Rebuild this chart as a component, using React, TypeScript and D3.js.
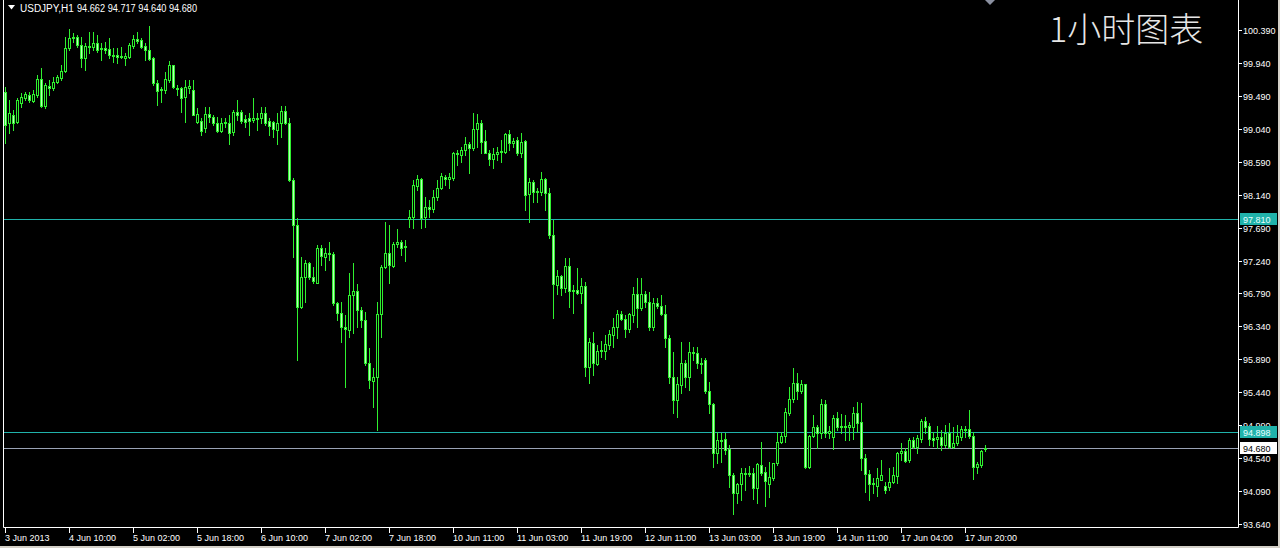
import React, { useEffect } from "react";
import * as d3 from "d3";

const symbolLabel = "USDJPY,H1";
const quoteLabel = "94.662 94.717 94.640 94.680";
const titleLabel = "1小时图表";

const open = [
  99.54, 99.12, 99.23, 99.13, 99.39, 99.46, 99.50, 99.42, 99.50, 99.72,
  99.35, 99.63, 99.60, 99.68, 99.73, 99.83, 100.14, 100.28, 100.30, 100.19,
  100.01, 100.16, 100.16, 100.21, 100.13, 100.14, 100.13, 100.05, 100.05, 100.02,
  100.01, 100.02, 100.17, 100.27, 100.25, 100.17, 100.12, 100.01, 99.67, 99.57,
  99.57, 99.71, 99.91, 99.60, 99.60, 99.48, 99.60, 99.57, 99.13, 99.15,
  99.05, 99.24, 99.20, 99.12, 99.01, 99.13, 99.12, 99.00, 99.27, 99.27,
  99.17, 99.19, 99.16, 99.19, 99.19, 99.26, 99.15, 99.13, 99.02, 99.12,
  99.28, 99.12, 98.34, 97.73, 96.61, 97.02, 97.21, 97.02, 96.93, 97.41,
  97.29, 97.34, 97.33, 96.66, 96.52, 96.33, 96.29, 96.77, 96.83, 96.57,
  96.43, 95.84, 95.60, 95.65, 96.51, 97.15, 97.34, 97.17, 97.47, 97.49,
  97.43, 97.81, 97.84, 98.26, 98.35, 97.84, 97.97, 97.95, 98.11, 98.23,
  98.38, 98.35, 98.37, 98.71, 98.68, 98.75, 98.83, 98.78, 99.04, 99.12,
  98.87, 98.71, 98.63, 98.70, 98.72, 98.72, 98.97, 98.85, 98.89, 98.71,
  98.87, 98.15, 98.31, 98.18, 98.18, 98.35, 98.16, 97.59, 96.91, 97.03,
  96.87, 97.17, 96.83, 96.84, 96.80, 96.89, 95.79, 96.11, 95.83, 96.00,
  96.00, 96.09, 96.22, 96.33, 96.51, 96.44, 96.31, 96.50, 96.78, 96.59,
  96.78, 96.67, 96.33, 96.66, 96.62, 96.51, 96.18, 95.65, 95.34, 95.54,
  95.84, 95.65, 95.99, 95.98, 95.84, 95.88, 95.46, 95.28, 94.61, 94.79,
  94.80, 94.67, 94.31, 94.07, 94.19, 94.34, 94.33, 94.34, 94.13, 94.45,
  94.35, 94.19, 94.27, 94.48, 94.76, 94.84, 95.16, 95.35, 95.57, 95.46,
  95.55, 94.42, 94.84, 94.97, 94.89, 95.28, 94.89, 94.83, 95.09, 94.97,
  94.98, 94.97, 94.97, 95.16, 95.04, 94.54, 94.33, 94.19, 94.16, 94.24,
  94.16, 94.15, 94.22, 94.30, 94.61, 94.64, 94.52, 94.79, 94.69, 94.80,
  95.05, 94.98, 94.82, 94.80, 94.83, 94.72, 94.89, 94.69, 94.75, 94.83,
  94.94, 94.94, 94.84, 94.42, 94.45, 94.662,
];

const high = [
  99.61, 99.43, 99.30, 99.46, 99.53, 99.54, 99.54, 99.57, 99.78, 99.87,
  99.67, 99.71, 99.75, 99.78, 99.91, 100.30, 100.40, 100.35, 100.32, 100.30,
  100.21, 100.36, 100.36, 100.32, 100.21, 100.23, 100.28, 100.14, 100.14, 100.16,
  100.08, 100.21, 100.32, 100.36, 100.28, 100.21, 100.45, 100.02, 99.71, 99.61,
  99.82, 99.97, 99.91, 99.64, 99.61, 99.71, 99.71, 99.71, 99.32, 99.19,
  99.34, 99.34, 99.23, 99.20, 99.19, 99.19, 99.23, 99.30, 99.43, 99.30,
  99.23, 99.26, 99.46, 99.26, 99.34, 99.34, 99.19, 99.15, 99.26, 99.35,
  99.35, 99.19, 98.37, 97.82, 97.29, 97.25, 97.22, 97.15, 97.45, 97.45,
  97.41, 97.49, 97.36, 96.67, 96.67, 96.50, 97.07, 97.21, 96.92, 96.61,
  96.54, 96.05, 95.77, 96.67, 97.18, 97.77, 97.73, 97.49, 97.67, 97.52,
  97.52, 97.93, 98.34, 98.41, 98.37, 98.11, 98.07, 98.20, 98.34, 98.44,
  98.41, 98.44, 98.72, 98.75, 98.79, 98.93, 98.86, 99.26, 99.24, 99.16,
  99.02, 98.75, 98.78, 98.79, 98.89, 98.98, 99.02, 98.92, 98.93, 98.98,
  98.89, 98.37, 98.34, 98.23, 98.45, 98.37, 98.23, 97.80, 97.11, 97.04,
  97.28, 97.28, 96.91, 97.14, 97.00, 96.95, 96.18, 96.26, 96.09, 96.14,
  96.22, 96.29, 96.46, 96.57, 96.55, 96.50, 96.52, 96.88, 97.00, 97.00,
  96.83, 96.81, 96.73, 96.73, 96.77, 96.63, 96.22, 95.99, 95.65, 96.13,
  95.88, 96.13, 96.06, 96.06, 95.91, 95.91, 95.58, 95.30, 94.90, 94.89,
  94.89, 94.72, 94.34, 94.20, 94.41, 94.41, 94.43, 94.41, 94.48, 94.76,
  94.42, 94.49, 94.48, 94.90, 94.90, 95.23, 95.51, 95.77, 95.71, 95.61,
  95.55, 94.86, 95.13, 94.99, 95.35, 95.34, 94.98, 95.13, 95.17, 95.14,
  95.13, 95.04, 95.24, 95.31, 95.30, 94.59, 94.38, 94.27, 94.41, 94.52,
  94.22, 94.41, 94.42, 94.63, 94.75, 94.68, 94.82, 94.83, 94.86, 95.08,
  95.10, 95.02, 94.90, 94.98, 94.93, 94.99, 95.02, 94.97, 94.99, 94.98,
  94.98, 95.20, 94.90, 94.49, 94.65, 94.717,
];

const low = [
  98.85, 98.98, 99.02, 99.12, 99.34, 99.43, 99.41, 99.41, 99.48, 99.34,
  99.32, 99.50, 99.57, 99.67, 99.71, 99.82, 100.12, 100.23, 100.16, 99.88,
  99.84, 100.08, 100.12, 100.09, 99.98, 100.08, 100.01, 99.95, 99.94, 100.01,
  99.91, 100.01, 100.14, 100.21, 100.14, 99.98, 99.98, 99.64, 99.37, 99.41,
  99.53, 99.68, 99.60, 99.50, 99.27, 99.13, 99.53, 99.23, 99.12, 98.96,
  99.00, 99.13, 99.09, 99.00, 99.00, 99.07, 98.83, 98.96, 99.16, 99.12,
  99.07, 98.96, 99.13, 99.02, 99.12, 99.09, 98.96, 98.93, 98.83, 98.93,
  99.11, 98.33, 97.29, 95.88, 96.59, 96.67, 96.99, 96.93, 96.93, 97.18,
  97.11, 97.25, 96.63, 96.43, 96.13, 95.51, 96.20, 96.25, 96.33, 96.33,
  95.81, 95.50, 95.24, 94.93, 96.20, 97.14, 96.93, 97.15, 97.43, 97.32,
  97.23, 97.70, 97.69, 98.20, 97.69, 97.70, 97.84, 97.90, 98.07, 98.22,
  98.27, 98.23, 98.34, 98.55, 98.59, 98.68, 98.44, 98.75, 98.79, 98.71,
  98.71, 98.55, 98.50, 98.61, 98.59, 98.71, 98.75, 98.79, 98.68, 98.66,
  97.93, 97.77, 98.04, 98.04, 98.14, 97.93, 97.55, 96.46, 96.78, 96.77,
  96.81, 96.61, 96.52, 96.78, 96.66, 95.66, 95.57, 95.68, 95.81, 95.92,
  95.90, 96.03, 96.06, 96.18, 96.43, 96.20, 96.26, 96.40, 96.33, 96.57,
  96.61, 96.29, 96.29, 96.59, 96.50, 96.06, 95.57, 95.16, 95.10, 95.43,
  95.51, 95.47, 95.88, 95.77, 95.71, 95.43, 95.16, 94.42, 94.48, 94.49,
  94.59, 94.15, 93.77, 93.93, 93.97, 94.11, 94.30, 93.98, 93.93, 94.31,
  93.89, 94.01, 94.24, 94.45, 94.75, 94.76, 95.13, 95.31, 95.35, 95.43,
  94.41, 94.41, 94.83, 94.68, 94.82, 94.83, 94.82, 94.67, 94.93, 94.89,
  94.79, 94.79, 94.80, 94.90, 94.38, 94.08, 93.97, 94.07, 94.02, 94.24,
  94.07, 94.11, 94.20, 94.20, 94.52, 94.49, 94.49, 94.68, 94.61, 94.76,
  94.89, 94.72, 94.71, 94.68, 94.65, 94.69, 94.68, 94.68, 94.72, 94.79,
  94.83, 94.82, 94.26, 94.34, 94.42, 94.640,
];

const close = [
  99.09, 99.26, 99.12, 99.43, 99.48, 99.52, 99.43, 99.52, 99.72, 99.35,
  99.64, 99.60, 99.68, 99.75, 99.83, 100.14, 100.28, 100.30, 100.19, 100.01,
  100.17, 100.17, 100.21, 100.12, 100.14, 100.12, 100.05, 100.04, 100.02, 100.04,
  100.04, 100.19, 100.27, 100.24, 100.16, 100.12, 99.99, 99.67, 99.56, 99.58,
  99.72, 99.91, 99.61, 99.58, 99.46, 99.61, 99.63, 99.23, 99.24, 99.01,
  99.24, 99.20, 99.12, 99.01, 99.12, 99.12, 98.98, 99.27, 99.23, 99.15,
  99.13, 99.15, 99.19, 99.17, 99.26, 99.12, 99.08, 99.04, 99.12, 99.28,
  99.12, 98.34, 97.73, 96.61, 97.02, 97.21, 97.02, 96.96, 97.41, 97.30,
  97.34, 97.33, 96.66, 96.52, 96.33, 96.31, 96.77, 96.83, 96.57, 96.43,
  95.84, 95.61, 95.65, 96.51, 97.15, 97.34, 97.18, 97.47, 97.49, 97.41,
  97.44, 97.84, 98.27, 98.35, 97.82, 97.97, 97.95, 98.11, 98.23, 98.40,
  98.35, 98.38, 98.71, 98.70, 98.75, 98.83, 98.78, 99.04, 99.12, 98.86,
  98.71, 98.63, 98.70, 98.72, 98.74, 98.97, 98.85, 98.87, 98.71, 98.86,
  98.14, 98.31, 98.18, 98.19, 98.35, 98.16, 97.59, 96.92, 97.03, 96.87,
  97.17, 96.83, 96.84, 96.80, 96.89, 95.79, 96.13, 95.84, 96.00, 96.02,
  96.10, 96.24, 96.33, 96.51, 96.44, 96.31, 96.51, 96.78, 96.59, 96.78,
  96.67, 96.33, 96.66, 96.62, 96.51, 96.18, 95.65, 95.34, 95.55, 95.84,
  95.65, 95.99, 95.98, 95.84, 95.83, 95.46, 95.28, 94.61, 94.79, 94.78,
  94.65, 94.31, 94.07, 94.19, 94.34, 94.33, 94.34, 94.13, 94.46, 94.34,
  94.23, 94.28, 94.48, 94.76, 94.84, 95.17, 95.35, 95.57, 95.46, 95.55,
  94.42, 94.84, 94.97, 94.89, 95.28, 94.89, 94.91, 95.09, 94.97, 94.98,
  94.97, 94.99, 95.16, 95.02, 94.54, 94.33, 94.19, 94.20, 94.27, 94.31,
  94.11, 94.22, 94.31, 94.61, 94.64, 94.50, 94.79, 94.69, 94.82, 95.05,
  94.97, 94.80, 94.79, 94.83, 94.72, 94.89, 94.69, 94.75, 94.84, 94.94,
  94.93, 94.84, 94.42, 94.46, 94.64, 94.680,
];

const timeLabels = [
  "3 Jun 2013", "4 Jun 10:00", "5 Jun 02:00", "5 Jun 18:00", "6 Jun 10:00",
  "7 Jun 02:00", "7 Jun 18:00", "10 Jun 11:00", "11 Jun 03:00", "11 Jun 19:00",
  "12 Jun 11:00", "13 Jun 03:00", "13 Jun 19:00", "14 Jun 11:00", "17 Jun 04:00",
  "17 Jun 20:00",
];
const barsPerTimeLabel = 16;

const priceLabels = [
  "93.640", "94.090", "94.540", "94.990", "95.440", "95.890", "96.340", "96.790",
  "97.240", "97.690", "98.140", "98.590", "99.040", "99.490", "99.940", "100.390",
];

const levelPrices = [97.81, 94.898];
const bidPrice = 94.68;

const GREEN = "#2ff02f";
const BEAR_FILL = "#b8ffb8";
const CYAN = "#20b2aa";
const BIDLINE = "#9aa3b5";
const FONT = "'Liberation Sans', Arial, sans-serif";

export default function App() {
  useEffect(() => {
    document.body.style.margin = "0";
    document.body.style.background = "#000";
  }, []);

  const W = 1280;
  const H = 548;
  const n = close.length;
  const x = d3.scaleLinear().domain([0, n - 1]).range([5, 5 + 4 * (n - 1)]);
  const y = d3
    .scaleLinear()
    .domain([+priceLabels[0], +priceLabels[priceLabels.length - 1]])
    .range([524, 30]);

  const frameRight = 1238.5;
  const frameBottom = 527.5;
  const frameLeft = 3.5;

  const candles = close.map((c, i) => {
    const o = open[i];
    const cx = Math.round(x(i));
    const yh = Math.round(y(high[i]));
    const yl = Math.round(y(low[i]));
    const yTop = Math.round(y(Math.max(o, c)));
    const yBot = Math.round(y(Math.min(o, c)));
    const bull = c > o;
    return (
      <g key={i}>
        <line x1={cx + 0.5} x2={cx + 0.5} y1={yh} y2={yl + 1} stroke={GREEN} strokeWidth={1} />
        {yBot - yTop >= 1 ? (
          <rect
            x={cx - 0.5}
            y={yTop + 0.5}
            width={2}
            height={yBot - yTop}
            fill={bull ? "#000" : BEAR_FILL}
            stroke={GREEN}
            strokeWidth={1}
          />
        ) : (
          <line x1={cx - 1} x2={cx + 2} y1={yTop + 0.5} y2={yTop + 0.5} stroke={GREEN} strokeWidth={1} />
        )}
      </g>
    );
  });

  return (
    <div style={{ position: "absolute", left: 0, top: 0, width: W, height: H, background: "#000" }}>
      <svg width={W} height={H} style={{ display: "block" }}>
        <rect x={0} y={0} width={W} height={H} fill="#000" />

        {/* horizontal level lines */}
        {levelPrices.map((p, i) => (
          <line key={"lv" + i} x1={frameLeft} x2={frameRight} y1={Math.round(y(p)) + 0.5} y2={Math.round(y(p)) + 0.5} stroke={CYAN} strokeWidth={1} />
        ))}
        <line x1={frameLeft} x2={frameRight} y1={Math.round(y(bidPrice)) + 0.5} y2={Math.round(y(bidPrice)) + 0.5} stroke={BIDLINE} strokeWidth={1} />

        {candles}

        {/* frame */}
        <line x1={frameLeft} x2={frameLeft} y1={0} y2={frameBottom} stroke="#fff" strokeWidth={1} />
        <line x1={frameRight} x2={frameRight} y1={0} y2={frameBottom} stroke="#fff" strokeWidth={1} />
        <line x1={frameLeft} x2={frameRight} y1={frameBottom} y2={frameBottom} stroke="#fff" strokeWidth={1} />

        {/* price axis */}
        {priceLabels.map((lab) => {
          const py = Math.round(y(+lab));
          return (
            <g key={lab}>
              <line x1={1239} x2={1242} y1={py + 0.5} y2={py + 0.5} stroke="#fff" strokeWidth={1} />
              <text x={1243} y={py + 3.5} fill="#fff" fontFamily={FONT} fontSize={9}>
                {lab}
              </text>
            </g>
          );
        })}

        {/* level labels */}
        {levelPrices.map((p, i) => {
          const py = Math.round(y(p));
          return (
            <g key={"ll" + i}>
              <rect x={1240} y={py - 6} width={37} height={12} fill={CYAN} />
              <text x={1243} y={py + 3.5} fill="#e8ffff" fontFamily={FONT} fontSize={9}>
                {p.toFixed(3)}
              </text>
            </g>
          );
        })}
        {(() => {
          const py = Math.round(y(bidPrice));
          return (
            <g>
              <rect x={1240} y={py - 6} width={37} height={12} fill="#fff" />
              <text x={1243} y={py + 3.5} fill="#000" fontFamily={FONT} fontSize={9}>
                {bidPrice.toFixed(3)}
              </text>
            </g>
          );
        })()}

        {/* time axis */}
        {timeLabels.map((lab, k) => {
          const tx = Math.round(x(k * barsPerTimeLabel));
          return (
            <g key={lab}>
              <line x1={tx + 0.5} x2={tx + 0.5} y1={528} y2={533} stroke="#fff" strokeWidth={1} />
              <text x={tx} y={541} fill="#fff" fontFamily={FONT} fontSize={9}>
                {lab}
              </text>
            </g>
          );
        })}

        {/* header */}
        <polygon points="8,5 15,5 11.5,9.5" fill="#fff" />
        <text x={20} y={12} fill="#fff" fontFamily={FONT} fontSize={10}>
          {symbolLabel}
        </text>
        <text x={77} y={12} fill="#fff" fontFamily={FONT} fontSize={10} textLength={120} lengthAdjust="spacingAndGlyphs">
          {quoteLabel}
        </text>

        {/* shift marker */}
        <polygon points="985,0 995,0 990,5" fill="#8a90a0" />

        {/* title */}
        <text x={1049} y={42} fill="#e6e6e6" fontFamily="'Noto Sans CJK SC', sans-serif" fontWeight={300} fontSize={34}>
          {titleLabel}
        </text>

        {/* window edge */}
        <rect x={0} y={546} width={W} height={2} fill="#d4d0c8" />
        <rect x={1278} y={0} width={2} height={H} fill="#d4d0c8" />
      </svg>
    </div>
  );
}
